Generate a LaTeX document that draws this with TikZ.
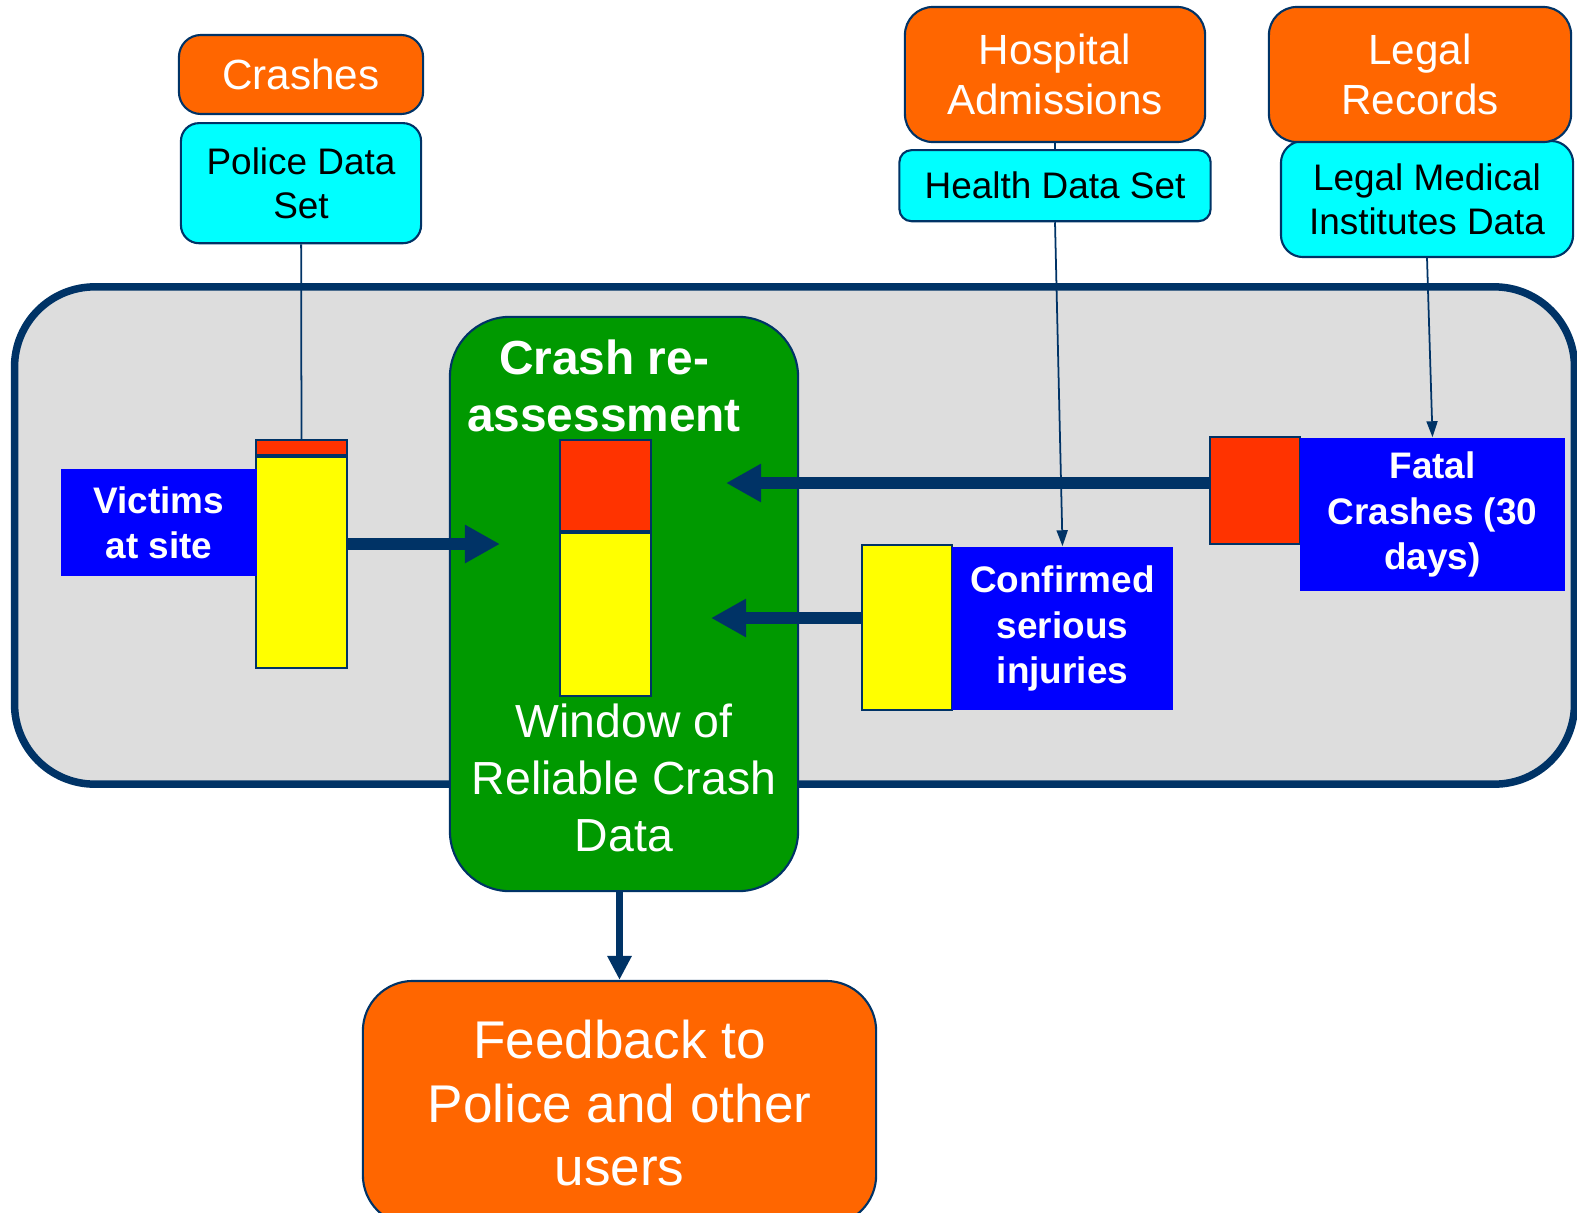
\documentclass[tikz,border=0pt]{standalone}
\usepackage{fontspec}
\setmainfont{Liberation Sans}
\usepackage{tikz}
\usetikzlibrary{arrows.meta,positioning}
\definecolor{navy}{HTML}{003366}
\definecolor{srcorange}{HTML}{FF6600}
\definecolor{setcyan}{HTML}{00FFFF}
\definecolor{tagblue}{HTML}{0000FF}
\definecolor{boxgreen}{HTML}{009900}
\definecolor{barred}{HTML}{FF3300}
\definecolor{baryellow}{HTML}{FFFF00}
\definecolor{panelgray}{HTML}{DDDDDD}
\tikzset{
    %Define style for boxes
    source/.style={
           rectangle,
           rounded corners=0.22cm,
           draw=navy, semithick,
           fill=srcorange,
           text=white,
           font=\fontsize{12}{14.3}\selectfont,
           align=center,
           inner sep=0pt,
           },
    dataset/.style={
           rectangle,
           rounded corners=0.18cm,
           draw=navy, semithick,
           fill=setcyan,
           text=black,
           font=\fontsize{10.5}{12.6}\selectfont,
           align=center,
           inner sep=0pt,
           },
    tag/.style={
           rectangle,
           fill=tagblue,
           text=white,
           font=\fontsize{10.5}{12.9}\selectfont\bfseries,
           align=center,
           inner sep=0pt,
           },
    bar/.style={
           rectangle,
           draw=navy, semithick,
           inner sep=0pt,
           minimum width=0.91cm,
           },
    heading/.style={
           text=white,
           align=center,
           inner sep=0pt,
           },
    % Define arrow styles
    pil/.style={
           -{Triangle[length=0.35cm,width=0.36cm]},
           line width=0.12cm,
           draw=navy,},
    feed/.style={
           -{Triangle[length=0.24cm,width=0.23cm]},
           line width=0.065cm,
           draw=navy,},
    thinpil/.style={
           -{Triangle[length=0.16cm,width=0.11cm]},
           line width=0.5pt,
           draw=navy,},
    thinline/.style={
           line width=0.5pt,
           draw=navy,}
}
\begin{document}
\begin{tikzpicture}[x=0.01cm,y=-0.01cm]
\useasboundingbox (0,0) rectangle (1577,1212);
% background panel and green window
\node[rectangle, rounded corners=0.8cm, draw=navy, line width=0.075cm, fill=panelgray,
      minimum width=15.59cm, minimum height=4.97cm] (panel) at (794.5,535.5) {};
\node[rectangle, rounded corners=0.6cm, draw=navy, semithick, fill=boxgreen,
      minimum width=3.48cm, minimum height=5.74cm] (window) at (624,604) {};
\node[heading, font=\fontsize{13.6}{16.3}\selectfont\bfseries] (reassess) at (604,386) {Crash re-\\assessment};
\node[heading, font=\fontsize{13.2}{16.3}\selectfont] (reliable) at (624,778) {Window of\\Reliable Crash\\Data};

% sources and data sets
\node[source, minimum width=2.44cm, minimum height=0.79cm] (crashes) at (301,74.5) {Crashes};
\node[dataset, minimum width=2.40cm, minimum height=1.20cm, below=0.07cm of crashes] (police) {Police Data\\Set};
\node[source, rounded corners=0.28cm, minimum width=3.00cm, minimum height=1.35cm] (hospital) at (1055,74.5) {Hospital\\Admissions};
\node[dataset, rounded corners=0.12cm, minimum width=3.11cm, minimum height=0.71cm, below=0.06cm of hospital] (health) {Health Data Set};
\node[dataset, rounded corners=0.22cm, minimum width=2.92cm, minimum height=1.16cm] (legalmed) at (1427,199) {Legal Medical\\Institutes Data};
\node[source, rounded corners=0.28cm, minimum width=3.02cm, minimum height=1.35cm] (legal) at (1420,74.5) {Legal\\Records};

% bars and labels
\node[bar, fill=barred, minimum height=0.15cm] (vbarred) at (301.5,447.5) {};
\node[bar, fill=baryellow, minimum height=2.11cm, below=0pt of vbarred] (vbar) {};
\node[tag, minimum width=1.96cm, minimum height=1.07cm] (victims) at (159,522.5) {Victims\\at site};

\node[bar, fill=barred, minimum height=0.91cm] (wbarred) at (605.5,485.5) {};
\node[bar, fill=baryellow, minimum height=1.63cm, below=0pt of wbarred] (wbar) {};

\node[bar, fill=barred, minimum width=0.90cm, minimum height=1.07cm] (fatalbar) at (1255,490.5) {};
\node[tag, minimum width=2.65cm, minimum height=1.53cm] (fatal) at (1432.5,514.5) {Fatal\\Crashes (30\\days)};

\node[bar, fill=baryellow, minimum width=0.90cm, minimum height=1.65cm] (confbar) at (907,627.5) {};
\node[tag, minimum width=2.21cm, minimum height=1.63cm] (confirmed) at (1062.5,628.5) {Confirmed\\serious\\injuries};

\node[source, rounded corners=0.5cm, minimum width=5.13cm, minimum height=2.44cm,
      font=\fontsize{15.1}{18}\selectfont] (feedback) at (619.5,1103) {Feedback to\\Police and other\\users};

% connectors
\coordinate (inA) at (500,544);
\coordinate (inB) at (726,483);
\coordinate (inC) at (711,618);
\draw[thinline] (police) -- (vbarred);
\draw[thinline] (hospital) -- (health);
\draw[thinpil] (health.south) -- (confirmed.north);
\draw[thinpil] (legalmed.south) -- (fatal.north);
\draw[pil] (vbar.east |- inA) -- (inA);
\draw[pil] (fatalbar.west |- inB) -- (inB);
\draw[pil] (confbar.west |- inC) -- (inC);
\draw[feed] (feedback.north |- window.south) -- (feedback.north);
\end{tikzpicture}
\end{document}
